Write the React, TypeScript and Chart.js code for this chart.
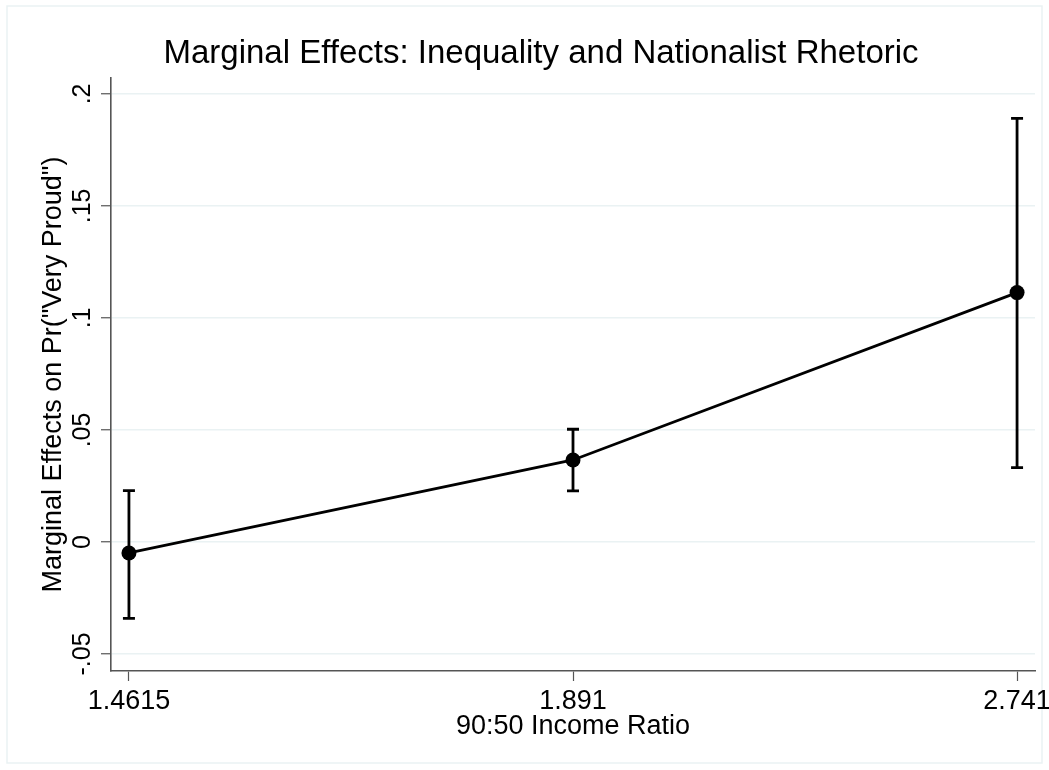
import React, { useEffect, useRef } from "react";
import { Chart, registerables } from "chart.js";

Chart.register(...registerables);

// ---- data ----
const categories: string[] = ["1.4615", "1.891", "2.741"];
const effects: number[] = [-0.0049, 0.0366, 0.1113];
const lowerCI: number[] = [-0.0341, 0.0228, 0.0332];
const upperCI: number[] = [0.0229, 0.0503, 0.1891];
const yTickValues: number[] = [-0.05, 0, 0.05, 0.1, 0.15, 0.2];
const yTickLabels: string[] = ["-.05", "0", ".05", ".1", ".15", ".2"];

const titleText = "Marginal Effects: Inequality and Nationalist Rhetoric";
const xTitle = "90:50 Income Ratio";
const yTitle = 'Marginal Effects on Pr("Very Proud")';

const FONT = "'Liberation Sans', Arial, Helvetica, sans-serif";
const AXIS_COLOR = "#555555";
const GRID_COLOR = "#eaf2f3";

const framePlugin = {
  id: "frame",
  beforeDraw(chart: any) {
    const ctx = chart.ctx;
    ctx.save();
    ctx.fillStyle = "#ffffff";
    ctx.fillRect(0, 0, chart.width, chart.height);
    ctx.strokeStyle = GRID_COLOR;
    ctx.lineWidth = 1.5;
    ctx.strokeRect(7, 6, chart.width - 14, chart.height - 13);
    ctx.restore();
  },
};

const errorBarPlugin = {
  id: "errorBars",
  beforeDatasetsDraw(chart: any) {
    const ctx = chart.ctx;
    const xs = chart.scales.x;
    const ys = chart.scales.y;
    ctx.save();
    ctx.strokeStyle = "#000000";
    ctx.lineWidth = 2.8;
    const cap = 6;
    for (let i = 0; i < categories.length; i++) {
      const px = xs.getPixelForValue(i);
      const pLo = ys.getPixelForValue(lowerCI[i]);
      const pHi = ys.getPixelForValue(upperCI[i]);
      ctx.beginPath();
      ctx.moveTo(px, pLo);
      ctx.lineTo(px, pHi);
      ctx.moveTo(px - cap, pLo);
      ctx.lineTo(px + cap, pLo);
      ctx.moveTo(px - cap, pHi);
      ctx.lineTo(px + cap, pHi);
      ctx.stroke();
    }
    ctx.restore();
  },
};

const yLabelPlugin = {
  id: "yRotLabels",
  afterDraw(chart: any) {
    const ctx = chart.ctx;
    const ys = chart.scales.y;
    ctx.save();
    ctx.fillStyle = "#000000";
    ctx.font = `25px ${FONT}`;
    ctx.textAlign = "center";
    ctx.textBaseline = "middle";
    for (let i = 0; i < yTickValues.length; i++) {
      const py = ys.getPixelForValue(yTickValues[i]);
      ctx.save();
      ctx.translate(83.5, py);
      ctx.rotate(-Math.PI / 2);
      ctx.fillText(yTickLabels[i], 0, 0);
      ctx.restore();
    }
    ctx.restore();
  },
};

export default function App() {
  const ref = useRef<HTMLCanvasElement>(null);

  useEffect(() => {
    document.body.style.margin = "0";
    const canvas = ref.current;
    if (!canvas) return;
    const chart = new Chart(canvas, {
      type: "line",
      data: {
        datasets: [
          {
            data: effects.map((v, i) => ({ x: i, y: v })),
            borderColor: "#000000",
            backgroundColor: "#000000",
            borderWidth: 2.8,
            pointRadius: 7.5,
            pointBackgroundColor: "#000000",
            pointBorderColor: "#000000",
            pointBorderWidth: 0,
            tension: 0,
            fill: false,
          },
        ],
      },
      options: {
        animation: false,
        responsive: false,
        devicePixelRatio: 1,
        layout: { padding: { left: 47, right: 14, top: 0, bottom: 0 } },
        plugins: {
          legend: { display: false },
          tooltip: { enabled: false },
          title: {
            display: true,
            text: titleText,
            color: "#000000",
            font: { family: FONT, size: 33, weight: "normal", lineHeight: 1.2 },
            padding: { top: 34.5, bottom: 3.9 },
          },
        },
        scales: {
          x: {
            type: "linear",
            min: -0.0404,
            max: 2.0404,
            afterBuildTicks(scale: any) {
              scale.ticks = categories.map((_, i) => ({ value: i }));
            },
            afterFit(scale: any) {
              scale.height = 99;
              scale.paddingLeft = 0;
              scale.paddingRight = 0;
            },
            ticks: {
              color: "#000000",
              font: { family: FONT, size: 27, lineHeight: 1.2 },
              padding: 4,
              maxRotation: 0,
              minRotation: 0,
              autoSkip: false,
              callback: (v: any) => categories[Math.round(Number(v))] ?? "",
            },
            grid: {
              drawOnChartArea: false,
              drawTicks: true,
              tickLength: 10,
              tickColor: AXIS_COLOR,
              tickWidth: 1.2,
            },
            border: { display: true, color: AXIS_COLOR, width: 1.6 },
            title: {
              display: true,
              text: xTitle,
              color: "#000000",
              font: { family: FONT, size: 27, lineHeight: 1.2 },
              padding: { top: 0, bottom: 27.5 },
            },
          },
          y: {
            type: "linear",
            min: -0.0576,
            max: 0.2071,
            afterBuildTicks(scale: any) {
              scale.ticks = yTickValues.map((v) => ({ value: v }));
            },
            afterFit(scale: any) {
              scale.width = 64;
              scale.paddingTop = 0;
              scale.paddingBottom = 0;
            },
            ticks: { display: false },
            grid: {
              color: GRID_COLOR,
              lineWidth: 1.5,
              drawTicks: true,
              tickLength: 10,
              tickColor: AXIS_COLOR,
              tickWidth: 1.2,
            },
            border: { display: true, color: AXIS_COLOR, width: 1.6 },
            title: {
              display: true,
              text: yTitle,
              color: "#000000",
              font: { family: FONT, size: 27, lineHeight: 0.489 },
              padding: { top: 0, bottom: 0 },
            },
          },
        },
      },
      plugins: [framePlugin, errorBarPlugin, yLabelPlugin],
    } as any);
    return () => chart.destroy();
  }, []);

  return (
    <div style={{ position: "absolute", left: 0, top: 0, width: 1049, height: 770 }}>
      <canvas ref={ref} width={1049} height={770} style={{ display: "block" }} />
    </div>
  );
}
